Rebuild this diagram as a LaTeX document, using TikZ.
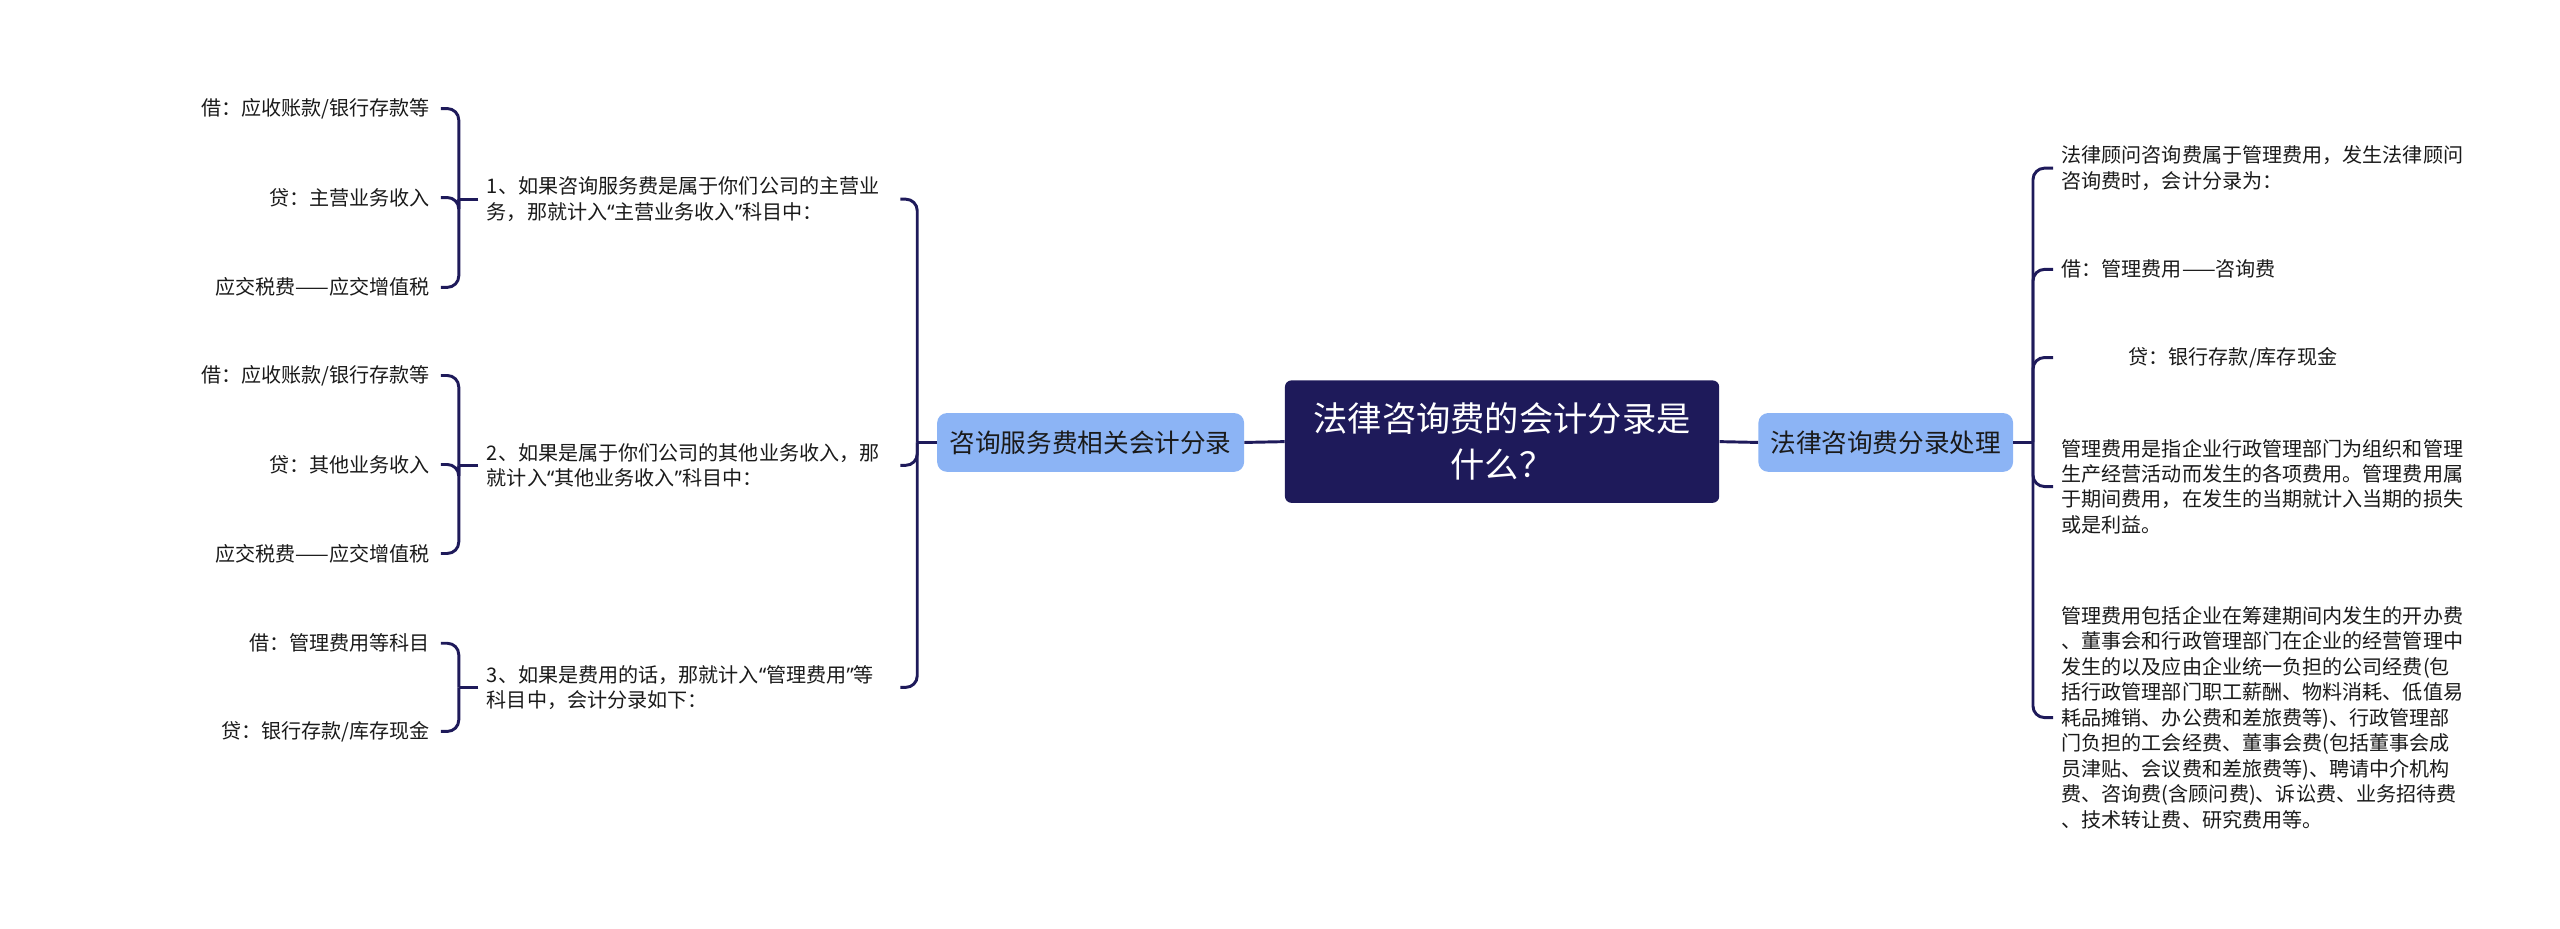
\documentclass[tikz,border=0pt]{standalone}
\usepackage{fontspec}
\setmainfont{Noto Sans CJK SC}
\newfontfamily\myqfont{Noto Sans}
\newcommand\myqo{{\myqfont “}}
\newcommand\myqc{{\myqfont ”}}
\definecolor{navy}{HTML}{1E1A5A}
\definecolor{lblue}{HTML}{8CB4F5}
\definecolor{txt}{HTML}{1A1A1A}
\begin{document}
\begin{tikzpicture}[x=1pt,y=-1pt,
  conn/.style={draw=navy,line width=1.8pt},
  rc/.style={conn,rounded corners=7pt},
  leaf/.style={font=\fontsize{12.3}{15.6}\selectfont,text=txt,inner xsep=5pt,inner ysep=2pt},
  itemnode/.style={leaf,anchor=east,inner xsep=6.5pt},
  lpara/.style={leaf,text width=248pt,align=left,anchor=west},
  rpara/.style={leaf,text width=248pt,align=left,anchor=west},
  mainnode/.style={fill=lblue,rounded corners=6pt,text=txt,minimum height=36pt,inner sep=0pt,font=\fontsize{15.7}{19}\selectfont},
  rootnode/.style={fill=navy,rounded corners=4pt,text=white,minimum width=266pt,minimum height=75pt,inner sep=0pt,align=center,font=\fontsize{21}{28}\selectfont}]
\useasboundingbox (0,0) rectangle (1568,569);

% root and main branches
\node[rootnode] (c) at (920,270.5) {法律咨询费的会计分录是\\什么？};
\node[mainnode,minimum width=188pt] (ln) at (668,271) {咨询服务费相关会计分录};
\node[mainnode,minimum width=156pt] (rn) at (1155,271) {法律咨询费分录处理};
\draw[conn] (ln.east) -- (c.west);
\draw[conn] (c.east) -- (rn.west);

% left paragraphs
\node[lpara] (t1) at (293,122) {1、如果咨询服务费是属于你们公司的主营业\\务，那就计入\myqo 主营业务收入\myqc 科目中：};
\node[lpara] (t2) at (293,285) {2、如果是属于你们公司的其他业务收入，那\\就计入\myqo 其他业务收入\myqc 科目中：};
\node[lpara] (t3) at (293,421) {3、如果是费用的话，那就计入\myqo 管理费用\myqc 等\\科目中，会计分录如下：};

% left items
\node[itemnode] (i11) at (270,66.5) {借：应收账款/银行存款等};
\node[itemnode] (i12) at (270,121) {贷：主营业务收入};
\node[itemnode] (i13) at (270,176) {应交税费——应交增值税};
\node[itemnode] (i21) at (270,230) {借：应收账款/银行存款等};
\node[itemnode] (i22) at (270,284.5) {贷：其他业务收入};
\node[itemnode] (i23) at (270,339) {应交税费——应交增值税};
\node[itemnode] (i31) at (270,394) {借：管理费用等科目};
\node[itemnode] (i32) at (270,448) {贷：银行存款/库存现金};

% right paragraphs
\node[rpara] (r1) at (1257.5,103) {法律顾问咨询费属于管理费用，发生法律顾问\\咨询费时，会计分录为：};
\node[rpara] (r2) at (1257.5,165) {借：管理费用——咨询费};
\node[rpara] (r3) at (1257.5,219) {\hspace*{41pt}贷：银行存款/库存现金};
\node[rpara] (r4) at (1257.5,298) {管理费用是指企业行政管理部门为组织和管理\\生产经营活动而发生的各项费用。管理费用属\\于期间费用，在发生的当期就计入当期的损失\\或是利益。};
\node[rpara] (r5) at (1257.5,439.5) {管理费用包括企业在筹建期间内发生的开办费\\、董事会和行政管理部门在企业的经营管理中\\发生的以及应由企业统一负担的公司经费(包\\括行政管理部门职工薪酬、物料消耗、低值易\\耗品摊销、办公费和差旅费等)、行政管理部\\门负担的工会经费、董事会费(包括董事会成\\员津贴、会议费和差旅费等)、聘请中介机构\\费、咨询费(含顾问费)、诉讼费、业务招待费\\、技术转让费、研究费用等。};

% left big bracket
\coordinate (lj) at ([xshift=-12pt]ln.west);
\draw[conn] (ln.west) -- (lj);
\foreach \t in {t1,t2,t3} {\draw[rc] (lj) |- (\t.east);}

% sub brackets
\coordinate (s1) at ([xshift=-12pt]t1.west);
\coordinate (s2) at ([xshift=-12pt]t2.west);
\coordinate (s3) at ([xshift=-12pt]t3.west);
\draw[conn] (t1.west) -- (s1);
\draw[conn] (t2.west) -- (s2);
\draw[conn] (t3.west) -- (s3);
\foreach \i in {i11,i12,i13} {\draw[rc] (s1) |- (\i.east);}
\foreach \i in {i21,i22,i23} {\draw[rc] (s2) |- (\i.east);}
\foreach \i in {i31,i32} {\draw[rc] (s3) |- (\i.east);}

% right bracket
\coordinate (rj) at ([xshift=12pt]rn.east);
\draw[conn] (rn.east) -- (rj);
\foreach \r in {r1,r2,r3,r4,r5} {\draw[rc] (rj) |- (\r.west);}
\end{tikzpicture}
\end{document}
